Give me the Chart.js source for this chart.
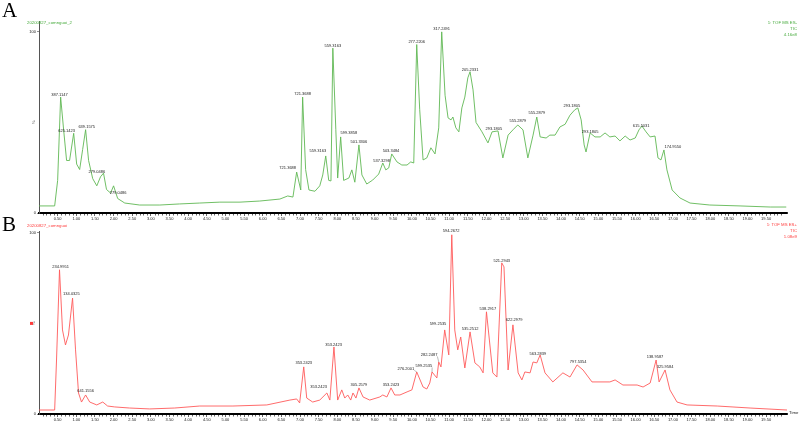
<!DOCTYPE html>
<html>
<head>
<meta charset="utf-8">
<script src="https://cdn.jsdelivr.net/npm/chart.js@4"></script>
<style>
html, body { margin: 0; padding: 0; background: #fff; }
#wrap { position: relative; width: 799px; height: 425px; overflow: hidden; }
.box { position: absolute; left: 0; width: 799px; }
</style>
</head>
<body>
<div id="wrap">
  <div class="box" style="top:0;height:222px"><canvas id="chartA"></canvas></div>
  <div class="box" style="top:214px;height:211px"><canvas id="chartB"></canvas></div>
</div>
<script>
// retention time (min) and relative intensity (%) for the two TIC traces
const timeA = [0, 0.42, 0.50, 0.58, 0.66, 0.74, 0.82, 0.93, 1.01, 1.09,
  1.17, 1.25, 1.33, 1.44, 1.55, 1.65, 1.73, 1.81, 1.92, 2.00,
  2.11, 2.30, 2.70, 3.24, 3.77, 4.31, 4.85, 5.39, 5.92, 6.46,
  6.67, 6.81, 6.91, 7.02, 7.07, 7.15, 7.24, 7.40, 7.53, 7.61,
  7.69, 7.77, 7.83, 7.88, 7.96, 8.01, 8.09, 8.17, 8.31, 8.39,
  8.47, 8.58, 8.66, 8.79, 8.95, 9.11, 9.22, 9.30, 9.38, 9.46,
  9.60, 9.73, 9.87, 9.97, 10.05, 10.13, 10.21, 10.30, 10.40, 10.51,
  10.62, 10.72, 10.80, 10.89, 10.97, 11.05, 11.10, 11.18, 11.26, 11.34,
  11.42, 11.50, 11.56, 11.64, 11.72, 11.88, 12.04, 12.15, 12.31, 12.44,
  12.58, 12.71, 12.84, 12.98, 13.11, 13.25, 13.35, 13.44, 13.60, 13.70,
  13.84, 13.97, 14.11, 14.24, 14.37, 14.45, 14.54, 14.62, 14.67, 14.78,
  14.91, 15.05, 15.18, 15.31, 15.45, 15.58, 15.72, 15.85, 15.99, 16.09,
  16.17, 16.28, 16.39, 16.52, 16.60, 16.68, 16.76, 16.84, 16.98, 17.19,
  17.46, 17.99, 18.80, 19.61, 20.04];
const intensityA = [3.9, 3.9, 18, 64, 46, 29, 29, 44, 27, 24,
  35, 46, 29, 19, 15, 20, 22, 13, 11, 15,
  8, 5.5, 4.4, 4.4, 5, 5.5, 6, 6, 6.6, 7.7,
  9.4, 8.8, 22.6, 12.7, 64, 24, 12.7, 12, 15, 21,
  31.5, 18, 17.7, 91, 46, 19.3, 42, 18, 19.3, 23.8,
  17, 37.6, 21, 16, 18.2, 21.5, 27.6, 23.8, 24.9, 32.6,
  28.2, 26.5, 26.5, 28.2, 27.6, 93, 57, 29.3, 30.4, 36,
  32.6, 47, 100, 65, 52.5, 51.4, 53, 47, 44.8, 58,
  64, 74.6, 78, 68, 50, 44.8, 38.7, 44.8, 45.3, 30.4,
  43, 45.9, 48.6, 45.9, 30.4, 43, 53, 42, 41.4, 43,
  43, 47.5, 49, 54, 57, 58, 51.4, 37.6, 33.7, 44.2,
  42, 42, 44.2, 42, 42.5, 39.8, 42.5, 40.3, 41.4, 45.9,
  48, 44.8, 42, 42.5, 30.4, 29.3, 34.8, 23.8, 12.7, 8.3,
  5.5, 4.4, 3.9, 3.3, 3.3];

const timeB = [0, 0.42, 0.47, 0.55, 0.63, 0.71, 0.79, 0.90, 0.98, 1.06,
  1.14, 1.25, 1.36, 1.55, 1.71, 1.84, 2.03, 2.43, 2.97, 3.64,
  4.31, 5.20, 6.11, 6.73, 6.91, 6.99, 7.10, 7.18, 7.34, 7.53,
  7.72, 7.80, 7.91, 8.01, 8.12, 8.20, 8.28, 8.36, 8.42, 8.50,
  8.58, 8.69, 8.87, 9.14, 9.22, 9.33, 9.44, 9.54, 9.68, 9.87,
  10.00, 10.13, 10.30, 10.40, 10.48, 10.54, 10.67, 10.72, 10.78, 10.88,
  10.99, 11.07, 11.15, 11.23, 11.31, 11.42, 11.56, 11.69, 11.82, 11.91,
  12.00, 12.17, 12.28, 12.41, 12.47, 12.58, 12.71, 12.85, 12.95, 13.03,
  13.17, 13.25, 13.35, 13.44, 13.57, 13.78, 14.05, 14.24, 14.43, 14.59,
  14.83, 15.31, 15.45, 15.66, 16.04, 16.20, 16.39, 16.55, 16.63, 16.79,
  16.92, 17.11, 17.38, 18.19, 19.07, 20.06];
const intensityB = [2.2, 2.2, 29.8, 79.6, 46.4, 38.1, 43.6, 64, 35.4, 11.6,
  6.6, 10.5, 6.6, 5, 6.6, 4.4, 3.9, 3.3, 2.8, 3.3,
  4.4, 4.4, 5, 7.7, 8.3, 6.1, 26, 8.8, 6.6, 7.7,
  11.6, 7.7, 37, 7.7, 13.3, 8.8, 10.5, 7.7, 11.6, 8.8,
  14.4, 9.4, 7.7, 9.4, 10.5, 9.4, 14.4, 10.5, 10.5, 12.2,
  13.3, 23.2, 14.9, 13.8, 17.1, 23.2, 19.9, 28.7, 26, 46.4,
  32.6, 98.9, 46.4, 35.4, 42.5, 25.4, 45.3, 28.2, 26, 22.7,
  56.4, 22.7, 20.4, 83.4, 81.2, 24.3, 49.2, 22.7, 18.8, 23.2,
  22.7, 28.7, 28.2, 32.6, 22.7, 17.7, 22.7, 20.4, 27.1, 24.3,
  17.7, 17.7, 18.8, 16, 16, 14.9, 17.1, 29.8, 17.7, 24.3,
  13.3, 6.6, 5, 4.4, 3.3, 2.2];

// peak annotations: m/z text, and where the text sits (time, intensity)
const massA = ['387.1147', '625.1423', '639.1575', '279.0486', '279.0486', '721.3688', '721.3688',
  '559.3163', '559.3163', '599.3858', '501.3306', '537.3298', '503.3484', '277.2206', '317.2491',
  '205.2331', '293.1805', '555.2879', '555.2879', '293.1805', '293.1805', '615.5031', '174.9550'];
const massTimeA = [0.55, 0.74, 1.28, 1.55, 2.12, 6.67, 7.07, 7.48, 7.88, 8.31, 8.58, 9.19, 9.44, 10.13, 10.80,
  11.56, 12.20, 12.84, 13.35, 14.29, 14.78, 16.15, 17.0];
const massLevelA = [65.2, 45.3, 47.5, 22.7, 11.0, 24.9, 65.7, 34.3, 92.3, 44.2, 39.2, 28.7, 34.3, 94.5, 101.7,
  79, 46.4, 50.8, 55.2, 59.1, 44.8, 48.1, 36.5];

const massB = ['234.9951', '134.0325', '641.1556', '353.2423', '353.2423', '353.2423', '305.2579', '353.2423',
  '276.2001', '599.2535', '282.2487', '599.2535', '594.2672', '535.2512', '538.2917', '521.2943',
  '622.2979', '563.2839', '797.5354', '138.9587', '325.9584'];
const massTimeB = [0.58, 0.87, 1.25, 7.10, 7.50, 7.90, 8.58, 9.44, 9.84, 10.32, 10.46, 10.70, 11.05, 11.56,
  12.04, 12.41, 12.74, 13.38, 14.46, 16.52, 16.79];
const massLevelB = [81, 66.3, 12.5, 28.2, 14.9, 38.1, 16, 16, 24.9, 26.5, 32.6, 49.7, 101, 47, 58, 84.5,
  51.9, 33.1, 28.7, 31.5, 26];
// peaks that the left-hand labels point to with a short leader
const leaderB = {8: [10.13, 23.2], 9: [10.54, 23.2], 10: [10.72, 28.7]};

const timeTicks = [0.5, 1, 1.5, 2, 2.5, 3, 3.5, 4, 4.5, 5, 5.5, 6, 6.5, 7, 7.5, 8, 8.5, 9, 9.5, 10,
  10.5, 11, 11.5, 12, 12.5, 13, 13.5, 14, 14.5, 15, 15.5, 16, 16.5, 17, 17.5, 18, 18.5, 19, 19.5];

const FONT = '"Liberation Sans", Arial, sans-serif';

function peakLabels(texts, times, levels, leaders) {
  return {
    id: 'peakLabels',
    afterDatasetsDraw(chart) {
      const ctx = chart.ctx, xs = chart.scales.x, ys = chart.scales.y;
      ctx.save();
      ctx.font = '4px ' + FONT;
      ctx.fillStyle = '#222';
      ctx.textAlign = 'center';
      ctx.textBaseline = 'middle';
      texts.forEach((txt, i) => {
        const px = xs.getPixelForValue(times[i]);
        const py = ys.getPixelForValue(levels[i]);
        ctx.fillText(txt, px, py);
        if (leaders && leaders[i]) {
          const w = ctx.measureText(txt).width;
          ctx.strokeStyle = '#777';
          ctx.lineWidth = 0.5;
          ctx.beginPath();
          ctx.moveTo(px + w / 2, py + 1.5);
          ctx.lineTo(xs.getPixelForValue(leaders[i][0]), ys.getPixelForValue(leaders[i][1]));
          ctx.stroke();
        }
      });
      ctx.restore();
    }
  };
}

function decorations(cfg) {
  return {
    id: 'decorations',
    afterDraw(chart) {
      const ctx = chart.ctx, xs = chart.scales.x, area = chart.chartArea;
      ctx.save();
      // minor time ticks
      ctx.strokeStyle = '#000';
      ctx.lineWidth = 0.6;
      for (let k = 1; k < 201; k++) {
        if (k % 5 === 0) continue;
        const px = Math.round(xs.getPixelForValue(k / 10)) + 0.5;
        if (px > area.right) break;
        ctx.beginPath();
        ctx.moveTo(px, area.bottom + 1);
        ctx.lineTo(px, area.bottom + 2.5);
        ctx.stroke();
      }
      // panel letter
      ctx.fillStyle = '#000';
      ctx.font = '21px "Liberation Serif", "Times New Roman", serif';
      ctx.textAlign = 'left';
      ctx.textBaseline = 'alphabetic';
      ctx.fillText(cfg.letter, 2, cfg.letterY);
      // file name and trace header
      ctx.font = '4.3px ' + FONT;
      ctx.fillStyle = cfg.textColor;
      ctx.textBaseline = 'middle';
      ctx.fillText(cfg.file, 27, cfg.fileY);
      ctx.textAlign = 'right';
      cfg.header.forEach((h, i) => ctx.fillText(h, 797, cfg.headerY + i * 5.8));
      // y-axis unit
      ctx.fillStyle = '#666';
      ctx.textAlign = 'center';
      ctx.save();
      ctx.translate(34, chart.scales.y.getPixelForValue(50));
      ctx.rotate(-Math.PI / 2);
      ctx.fillText('%', 0, 0);
      ctx.restore();
      if (cfg.marker) {
        ctx.fillStyle = cfg.textColor;
        ctx.fillRect(30, chart.scales.y.getPixelForValue(50) - 1.5, 3, 3);
      }
      if (cfg.timeLabel) {
        ctx.fillStyle = '#222';
        ctx.textAlign = 'left';
        ctx.fillText('Time', 789, area.bottom - 1);
      }
      ctx.restore();
    }
  };
}

function makeChart(id, times, values, color, yMax, topPad, axisH, labels, deco) {
  const points = times.map((t, i) => ({x: t, y: values[i]}));
  return new Chart(document.getElementById(id), {
    type: 'line',
    data: {
      datasets: [{
        data: points,
        borderColor: color,
        borderWidth: 0.9,
        pointRadius: 0,
        tension: 0,
        fill: false
      }]
    },
    options: {
      responsive: true,
      maintainAspectRatio: false,
      animation: false,
      layout: {padding: {left: 0, right: 12, top: topPad, bottom: 0}},
      plugins: {legend: {display: false}, tooltip: {enabled: false}},
      scales: {
        x: {
          type: 'linear',
          min: 0,
          max: 20.06,
          afterBuildTicks: s => { s.ticks = timeTicks.map(v => ({value: v})); },
          afterFit: s => { s.height = axisH; },
          ticks: {
            autoSkip: false, maxRotation: 0, padding: 0.5, color: '#222',
            font: {size: 4, family: FONT},
            callback: v => Number(v).toFixed(2)
          },
          grid: {drawOnChartArea: false, tickLength: 3, color: '#000', lineWidth: 0.6},
          border: {color: '#000', width: 2}
        },
        y: {
          min: 0,
          max: yMax,
          afterBuildTicks: s => { s.ticks = [{value: 0}, {value: 100}]; },
          afterFit: s => { s.width = 39; },
          ticks: {padding: 1, color: '#222', font: {size: 4, family: FONT}, callback: v => String(v)},
          grid: {drawOnChartArea: false, tickLength: 2, color: '#444', lineWidth: 0.6},
          border: {color: '#555', width: 1}
        }
      }
    },
    plugins: [labels, deco]
  });
}

makeChart('chartA', timeA, intensityA, 'rgb(96,184,84)', 106, 21, 9,
  peakLabels(massA, massTimeA, massLevelA, null),
  decorations({letter: 'A', letterY: 17, file: '20200827_comnguoi_2', fileY: 23,
    header: ['1: TOF MS ES-', 'TIC', '4.16e8'], headerY: 23, textColor: 'rgb(70,170,60)'}));

makeChart('chartB', timeB, intensityB, 'rgb(255,90,90)', 101, 17, 11,
  peakLabels(massB, massTimeB, massLevelB, leaderB),
  decorations({letter: 'B', letterY: 17, file: '20200827_comnguoi', fileY: 12,
    header: ['1: TOF MS ES+', 'TIC', '1.08e9'], headerY: 11, textColor: 'rgb(255,60,60)',
    marker: true, timeLabel: true}));
</script>
</body>
</html>
